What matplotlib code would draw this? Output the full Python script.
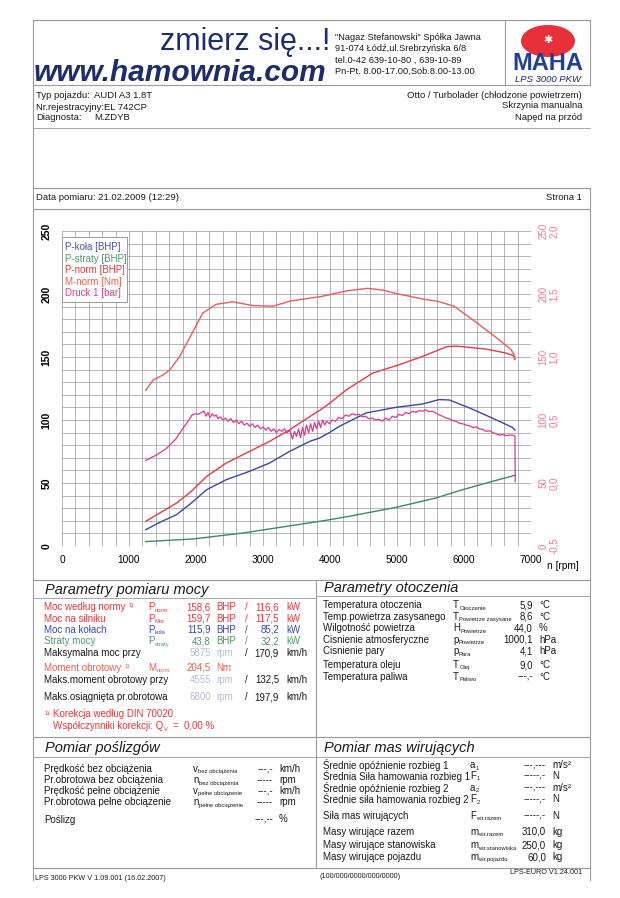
import matplotlib
matplotlib.use("Agg")
import matplotlib.pyplot as plt
from matplotlib.patches import Ellipse, Rectangle

plt.rcParams['font.family'] = ['Liberation Sans', 'DejaVu Sans']

# --- curve data (rpm / value) ---
rpm_m = [1250, 1360, 1510, 1610, 1760, 1930, 2100, 2300, 2550, 2850, 3150, 3400, 3700, 3850,
         4000, 4250, 4555, 4800, 4950, 5250, 5400, 5600, 5850, 6200, 6520, 6700, 6745, 6760]
m_norm = [123.5, 131.8, 135.8, 139.8, 150.8, 167.8, 184.8, 191.8, 193.8, 190.8, 190.3, 194.3, 196.8, 197.8,
          199.5, 202.5, 204.5, 203.0, 200.8, 197.5, 195.8, 194.3, 190.3, 176.8, 163.8, 156.0, 152.0, 148.5]

rpm_p = [1250, 1460, 1710, 1930, 2160, 2450, 2800, 3100, 3400, 3700, 3850, 4000, 4240, 4640,
         5030, 5380, 5750, 5875, 5930, 6330, 6620, 6740, 6760]
p_norm = [19.6, 26.2, 34.1, 43.4, 55.3, 65.8, 75.1, 83.1, 92.3, 102.8, 107.8, 113.5, 123.8, 137.3,
          143.8, 150.5, 158.3, 158.6, 158.4, 156.3, 153.2, 151.0, 148.0]

rpm_k = [1250, 1460, 1710, 1930, 2160, 2450, 2800, 3100, 3400, 3700, 3850, 4000, 4140, 4540,
         4990, 5380, 5630, 5780, 6080, 6420, 6720, 6760]
p_kola = [12.9, 18.8, 24.9, 34.1, 44.7, 52.6, 59.3, 65.9, 75.2, 83.1, 85.8, 90.3, 95.0, 105.6,
          110.1, 112.7, 116.2, 115.9, 109.6, 101.6, 94.2, 92.0]

rpm_s = [1250, 1960, 2700, 3450, 3850, 4000, 4340, 4990, 5580, 5980, 6430, 6760]
p_straty = [3.5, 5.6, 10.3, 16.4, 19.6, 20.9, 24.1, 30.7, 38.1, 44.7, 51.4, 56.1]

rpm_d = [1250, 1400, 1550, 1700, 1800, 1880, 1940, 1990, 2030, 2080, 2120, 2150, 2180, 2210, 2240,
         2270, 2300, 2330, 2360, 2400, 2440, 2480, 2520, 2560, 2600, 2640, 2680, 2720, 2760, 2800,
         2840, 2880, 2920, 2960, 3000, 3040, 3080, 3120, 3160, 3200, 3240, 3280, 3320, 3360, 3400,
         3440, 3470, 3500, 3530, 3560, 3590, 3620, 3650, 3680, 3710, 3740, 3770, 3800, 3830, 3860,
         3890, 3920, 3950, 3990, 4030, 4080, 4130, 4180, 4230, 4280, 4330, 4380, 4430, 4480, 4530,
         4580, 4630, 4680, 4730, 4780, 4830, 4880, 4930, 4980, 5030, 5080, 5130, 5180, 5230, 5280,
         5330, 5380, 5430, 5480, 5530, 5580, 5630, 5680, 5730, 5780, 5830, 5880, 5930, 5980, 6030,
         6080, 6130, 6180, 6230, 6280, 6330, 6380, 6430, 6480, 6530, 6580, 6630, 6680, 6730, 6760, 6765]
druck = [0.18, 0.22, 0.27, 0.35, 0.43, 0.49, 0.54, 0.55, 0.545, 0.56, 0.57, 0.53, 0.56, 0.52, 0.55,
         0.53, 0.54, 0.51, 0.525, 0.50, 0.515, 0.49, 0.51, 0.48, 0.50, 0.47, 0.49, 0.46, 0.475, 0.45,
         0.47, 0.44, 0.46, 0.43, 0.445, 0.42, 0.44, 0.41, 0.43, 0.40, 0.425, 0.41, 0.43, 0.40, 0.42,
         0.35, 0.41, 0.37, 0.43, 0.36, 0.44, 0.38, 0.46, 0.40, 0.47, 0.41, 0.48, 0.43, 0.49, 0.44,
         0.50, 0.46, 0.49, 0.47, 0.50, 0.49, 0.52, 0.51, 0.54, 0.53, 0.55, 0.54, 0.545, 0.525, 0.53,
         0.51, 0.515, 0.50, 0.505, 0.49, 0.515, 0.50, 0.53, 0.52, 0.545, 0.535, 0.56, 0.55, 0.57, 0.56,
         0.575, 0.57, 0.58, 0.565, 0.57, 0.555, 0.54, 0.53, 0.515, 0.51, 0.495, 0.49, 0.475, 0.47, 0.46,
         0.455, 0.44, 0.445, 0.43, 0.425, 0.41, 0.415, 0.40, 0.39, 0.38, 0.385, 0.375, 0.38, 0.38, 0.37, 0.01]

x_ticks = [0, 1000, 2000, 3000, 4000, 5000, 6000, 7000]
y_ticks = [0, 50, 100, 150, 200, 250]
bar_ticks = ["-0,5", "0,0", "0,5", "1,0", "1,5", "2,0"]

legend_labels = ["P-koła [BHP]", "P-straty [BHP]", "P-norm [BHP]", "M-norm [Nm]", "Druck 1 [bar]"]
C_KOLA, C_STR, C_PN, C_MN, C_DR = "#3c46a8", "#3d8a5e", "#e83a46", "#ee5a5a", "#e0388a"
legend_colors = ["#4a52b8", "#4a9a70", "#e83a3a", "#e8604a", "#e0408a"]

W, H = 620, 898
fig = plt.figure(figsize=(6.2, 8.98), dpi=100)
bg = fig.add_axes([0, 0, 1, 1])
bg.set_xlim(0, W); bg.set_ylim(H, 0); bg.axis("off")

LC = "#9a9a9a"
FS = 7.0
def hl(y, x0, x1, lw=0.8): bg.plot([x0, x1], [y, y], color=LC, lw=lw)
def vl(x, y0, y1, lw=0.8): bg.plot([x, x], [y0, y1], color=LC, lw=lw)
def t(x, y, s, size=FS, color="#1a1a1a", ha="left", va="center", **kw):
    return bg.text(x, y, s, fontsize=size, color=color, ha=ha, va=va, **kw)
WID = {"P": 6.8, "T": 6.3, "F": 6.3, "H": 7.4, "M": 8.5, "m": 8.5, "p": 5.8, "a": 5.8, "n": 5.8, "v": 5.3}
def sym(x, y, main, sub, color="#1a1a1a"):
    t(x, y, main, color=color)
    t(x + WID[main], y + 3, sub, size=4.2, color=color)
def after(txt, s, dx, dy=0, size=FS, color="#1a1a1a"):
    # place a text just after the right edge of another text
    return bg.annotate(s, xy=(1, 0.5), xycoords=txt, xytext=(dx, dy), textcoords="offset points",
                       fontsize=size, color=color, ha="left", va="center")

# header frame
hl(20, 33, 590); hl(85, 33, 590); vl(505, 20, 85); vl(590, 20, 85); vl(33, 20, 880)
t(330, 42, "zmierz się...!", size=22, color="#1c2d6e", ha="right")
t(34, 73, "www.hamownia.com", size=21.5, color="#1c2d6e", weight="bold", style="italic")
for i, s in enumerate(['"Nagaz Stefanowski" Spółka Jawna', "91-074 Łódź,ul.Srebrzyńska 6/8",
                       "tel.0-42 639-10-80 , 639-10-89", "Pn-Pt. 8.00-17.00,Sob.8.00-13.00"]):
    t(335, 37 + 11.5 * i, s, size=6.7)
bg.add_patch(Ellipse((548, 41), 54, 32, facecolor="#e8303a", edgecolor="none"))
t(548, 40, "✱", size=8, color="white", ha="center", family="DejaVu Sans")
t(548, 63, "MAHA", size=17, color="#1f3f9a", ha="center", weight="heavy")
t(548, 79, "LPS 3000 PKW", size=6.8, color="#1a2a6e", ha="center", style="italic")

# vehicle info
t(36, 96, "Typ pojazdu:", size=6.8); t(94, 96, "AUDI A3 1.8T", size=6.8)
t(36, 107, "Nr.rejestracyjny:EL 742CP", size=6.8)
t(36, 118, "Diagnosta:", size=6.8); t(94, 118, "M.ZDYB", size=6.8)
t(582, 95, "Otto / Turbolader (chłodzone powietrzem)", size=6.8, ha="right")
t(582, 106, "Skrzynia manualna", size=6.8, ha="right")
t(582, 117, "Napęd na przód", size=6.8, ha="right")
hl(128, 33, 590, lw=0.6)

hl(188, 33, 590); hl(209, 33, 590); vl(590, 188, 880)
t(36, 198, "Data pomiaru: 21.02.2009 (12:29)", size=6.8)
t(582, 198, "Strona 1", size=6.8, ha="right")

# chart
ax = fig.add_axes([62 / W, (H - 546) / H, (531 - 62) / W, (546 - 231) / H])
ax.set_xlim(0, 7000); ax.set_ylim(0, 250)
ax.set_xticks(range(0, 7001, 200)); ax.set_yticks(range(0, 251, 10))
ax.grid(True, color="#9696a4", lw=0.5)
ax.tick_params(length=0, labelbottom=False, labelleft=False)
for sp in ax.spines.values(): sp.set_visible(False)
ax.set_facecolor("none")
ax.plot(rpm_s, p_straty, color=C_STR, lw=1.0)
ax.plot(rpm_k, p_kola, color=C_KOLA, lw=1.0)
ax.plot(rpm_p, p_norm, color=C_PN, lw=1.0)
ax.plot(rpm_m, m_norm, color=C_MN, lw=1.0)
ax2 = ax.twinx(); ax2.set_ylim(-0.5, 2.0); ax2.axis("off")
ax2.plot(rpm_d, druck, color=C_DR, lw=0.9)

for v in x_ticks:
    ax.text(v, -11, str(v), fontsize=7.3, ha="center", va="center", clip_on=False)
ax.text(7480, -16, "n [rpm]", fontsize=7.3, ha="center", va="center", clip_on=False)
for v in y_ticks:
    ax.text(-230, v, str(v), fontsize=7.5, ha="center", va="center", rotation=90,
            weight="bold", clip_on=False)
    ax.text(7190, v, str(v), fontsize=7.0, ha="center", va="center", rotation=90,
            color="#f07890", clip_on=False)
for b, s in zip(y_ticks, bar_ticks):
    ax.text(7340, b, s, fontsize=7.0, ha="center", va="center", rotation=90,
            color="#f07890", clip_on=False)

# legend on top of the grid
fg = fig.add_axes([0, 0, 1, 1], label="fg")
fg.set_xlim(0, W); fg.set_ylim(H, 0); fg.axis("off")
fg.add_patch(Rectangle((62, 237), 65, 65, facecolor="white", edgecolor="#9a9a9a", lw=0.7))
for i, (s, c) in enumerate(zip(legend_labels, legend_colors)):
    fg.text(65, 247 + 11.6 * i, s, fontsize=7.0, color=c, va="center")

# tables frame
hl(580, 33, 590); vl(316, 580, 737); hl(737, 33, 590)
hl(598, 33, 316, lw=0.6); hl(596, 316, 590, lw=0.6)
vl(316, 737, 868); hl(757, 33, 316, lw=0.6); hl(757, 316, 590, lw=0.6); hl(868, 33, 590)

# Parametry pomiaru mocy
RED, BLUE, GREEN, SAL, GRY = "#e8363c", "#3a48b0", "#4a9a6a", "#e86050", "#b6bcd8"
t(45, 590, "Parametry pomiaru mocy", size=10.5, style="italic")
rows = [("Moc według normy", "P", "norm", "158,6", "116,6", RED),
        ("Moc na silniku", "P", "Mot", "159,7", "117,5", RED),
        ("Moc na kołach", "P", "koła", "115,9", "85,2", BLUE),
        ("Straty mocy", "P", "straty", "43,8", "32,2", GREEN)]
for i, (lab, m, sb, v1, v2, c) in enumerate(rows):
    y = 607 + 11.5 * i
    tx = t(44, y, lab, color=c)
    if i == 0:
        after(tx, "1)", 2.5, 1, size=4.3, color=c)
    sym(148, y, m, sb, color=c)
    t(211, y, v1, color=c, ha="right"); t(216, y, "BHP", color=c)
    t(246, y, "/", color=c, ha="center"); t(279, y, v2, color=c, ha="right"); t(286, y, "kW", color=c)
t(44, 653, "Maksymalna moc przy")
t(211, 653, "5875", color=GRY, ha="right"); t(216, 653, "rpm", color=GRY)
t(246, 653, "/", ha="center"); t(279, 653, "170,9", ha="right"); t(286, 653, "km/h")
tx = t(44, 668, "Moment obrotowy", color=SAL); after(tx, "1)", 2.5, 1, size=4.3, color=SAL)
sym(148, 668, "M", "norm", color=SAL)
t(211, 668, "204,5", color=SAL, ha="right"); t(216, 668, "Nm", color=SAL)
t(44, 680, "Maks.moment obrotowy przy")
t(211, 680, "4555", color=GRY, ha="right"); t(216, 680, "rpm", color=GRY)
t(246, 680, "/", ha="center"); t(279, 680, "132,5", ha="right"); t(286, 680, "km/h")
t(44, 697, "Maks.osiągnięta pr.obrotowa")
t(211, 697, "6800", color=GRY, ha="right"); t(216, 697, "rpm", color=GRY)
t(246, 697, "/", ha="center"); t(279, 697, "197,9", ha="right"); t(286, 697, "km/h")
t(45, 713, "1)", size=4.3, color=RED); t(53, 714, "Korekcja według DIN 70020", color=RED)
tq = t(53, 726, "Współczynniki korekcji: Q", color=RED)
tv = after(tq, "V", 0.8, -2.5, size=4.2, color=RED)
after(tv, "=", 3, 2.5, color=RED)
t(184, 726, "0,00 %", color=RED)

# Parametry otoczenia
t(324, 588, "Parametry otoczenia", size=10.5, style="italic")
env = [("Temperatura otoczenia", "T", "Otoczenie", "5,9", "°C"),
       ("Temp.powietrza zasysanego", "T", "Powietrze zasysane", "8,6", "°C"),
       ("Wilgotność powietrza", "H", "Powietrze", "44,0", "%"),
       ("Cisnienie atmosferyczne", "p", "Powietrze", "1000,1", "hPa"),
       ("Cisnienie pary", "p", "Para", "4,1", "hPa"),
       ("Temperatura oleju", "T", "Olej", "9,0", "°C"),
       ("Temperatura paliwa", "T", "Paliwo", "---,-", "°C")]
for i, (lab, m, sb, v, u) in enumerate(env):
    y = 605 + 11.6 * i + (2 if i >= 5 else 0)
    t(323, y, lab); sym(453, y, m, sb)
    t(533, y, v, ha="right"); t(539, y, u)

# Pomiar poślizgów
t(45, 748, "Pomiar poślizgów", size=10.5, style="italic")
slip = [("Prędkość bez obciążenia", "v", "bez obciążenia", "---,-", "km/h"),
        ("Pr.obrotowa bez obciążenia", "n", "bez obciążenia", "-----", "rpm"),
        ("Prędkość pełne obciążenie", "v", "pełne obciążenie", "---,-", "km/h"),
        ("Pr.obrotowa pełne obciążenie", "n", "pełne obciążenie", "-----", "rpm")]
for i, (lab, m, sb, v, u) in enumerate(slip):
    y = 769 + 11 * i
    t(44, y, lab); sym(193, y, m, sb)
    t(273, y, v, ha="right"); t(279, y, u)
t(44, 820, "Poślizg"); t(273, 819, "---,--", ha="right"); t(279, 819, "%")

# Pomiar mas wirujących
t(324, 748, "Pomiar mas wirujących", size=10.5, style="italic")
mas = [("Średnie opóźnienie rozbieg 1", "a", "1", "---,---", "m/s²", 765),
       ("Średnia Siła hamowania rozbieg 1", "F", "1", "-----,-", "N", 776),
       ("Średnie opóźnienie rozbieg 2", "a", "2", "---,---", "m/s²", 788),
       ("Średnie siła hamowania rozbieg 2", "F", "2", "-----,-", "N", 799),
       ("Siła mas wirujących", "F", "wir.razem", "-----,-", "N", 816),
       ("Masy wirujące razem", "m", "wir.razem", "310,0", "kg", 832),
       ("Masy wirujące stanowiska", "m", "wir.stanowiska", "250,0", "kg", 845),
       ("Masy wirujące pojazdu", "m", "wir.pojazdu", "60,0", "kg", 857)]
for lab, m, sb, v, u, y in mas:
    t(323, y, lab); sym(470, y, m, sb)
    t(546, y, v, ha="right"); t(552, y, u)

t(35, 879, "LPS 3000 PKW V 1.09.001 (16.02.2007)", size=5.2)
t(320, 877, "(100/000/0000/000/0000)", size=5.2)
t(582, 873, "LPS-EURO V1.24.001", size=5.2, ha="right")

fig.savefig("out.png", dpi=100)
